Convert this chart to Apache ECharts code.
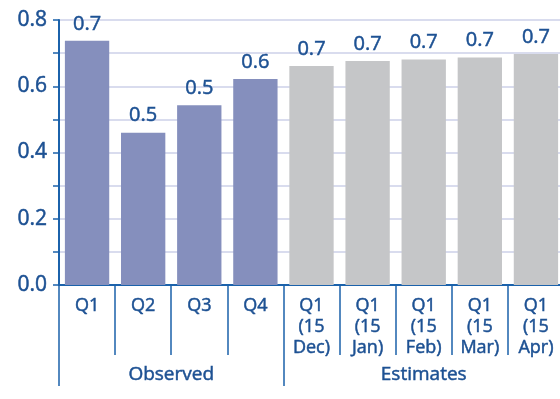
<!DOCTYPE html>
<html>
<head>
<meta charset="utf-8">
<script src="https://cdn.jsdelivr.net/npm/echarts@6/dist/echarts.min.js"></script>
<style>
  html, body { margin: 0; padding: 0; background: #fff; overflow: hidden; }
  /* the plot runs a few pixels past the right edge of the window */
  #chart { width: 566px; height: 399px; }
</style>
</head>
<body>
<div id="chart"></div>
<script>
// Quarterly values: four observed quarters, then successive estimates for Q1
const categories = ['Q1', 'Q2', 'Q3', 'Q4',
  'Q1\n(15\nDec)', 'Q1\n(15\nJan)', 'Q1\n(15\nFeb)', 'Q1\n(15\nMar)', 'Q1\n(15\nApr)'];
const values = [0.737, 0.46, 0.543, 0.622, 0.661, 0.676, 0.681, 0.687, 0.697];
const groupNames = ['Observed', 'Estimates'];
const groupSizes = [4, 5];
const groupColors = ['#858fbd', '#c5c6c8'];

const textColor = '#1d5193';
const axisColor = '#1b62ab';
const gridColor = '#cdd1e8';

// shared text style: Open Sans, thickened slightly with a same-colour outline
const font = {
  color: textColor,
  fontFamily: 'Open Sans',
  textBorderColor: textColor,
  textBorderWidth: 0.5
};

// colour each bar by the group it belongs to
const barData = [];
let k = 0;
groupSizes.forEach((n, g) => {
  for (let i = 0; i < n; i++, k++) {
    barData.push({ value: values[k], itemStyle: { color: groupColors[g] } });
  }
});

// group boundaries and centres along the category axis
const bounds = [0];
groupSizes.forEach(n => bounds.push(bounds[bounds.length - 1] + n));
const centres = groupSizes.map((n, g) => bounds[g] + n / 2);

const chart = echarts.init(document.getElementById('chart'));
chart.setOption({
  animation: false,
  grid: { left: 59, right: 2, top: 20, bottom: 114, containLabel: false },
  xAxis: [
    {
      type: 'category',
      data: categories,
      axisLine: { lineStyle: { color: axisColor, width: 2 } },
      axisTick: { show: true, interval: 0, length: 70, lineStyle: { color: axisColor, width: 1.5 } },
      axisLabel: Object.assign({
        interval: 0, fontSize: 18, lineHeight: 21, margin: 10, verticalAlign: 'top'
      }, font)
    },
    {
      type: 'value',
      min: 0, max: categories.length,
      position: 'bottom',
      axisLine: { show: false },
      splitLine: { show: false },
      axisTick: { show: true, customValues: bounds, length: 101, lineStyle: { color: axisColor, width: 1.5 } },
      axisLabel: Object.assign({
        customValues: centres, fontSize: 19, margin: 80,
        formatter: v => groupNames[centres.indexOf(v)]
      }, font)
    }
  ],
  yAxis: {
    type: 'value',
    min: 0, max: 0.8, interval: 0.1,
    axisLine: { show: true, lineStyle: { color: axisColor, width: 2 } },
    axisTick: { show: true, length: 6, lineStyle: { color: axisColor, width: 1.5 } },
    splitLine: { show: true, lineStyle: { color: gridColor, width: 1.5 } },
    axisLabel: Object.assign({
      fontSize: 21, margin: 12,
      formatter: v => (Math.round(v * 10) % 2 === 0 ? v.toFixed(1) : '')
    }, font)
  },
  series: [{
    type: 'bar',
    data: barData,
    barCategoryGap: '21%',
    label: Object.assign({
      show: true, position: 'top', distance: 7, fontSize: 20,
      formatter: p => p.value.toFixed(1)
    }, font)
  }]
});
</script>
</body>
</html>
